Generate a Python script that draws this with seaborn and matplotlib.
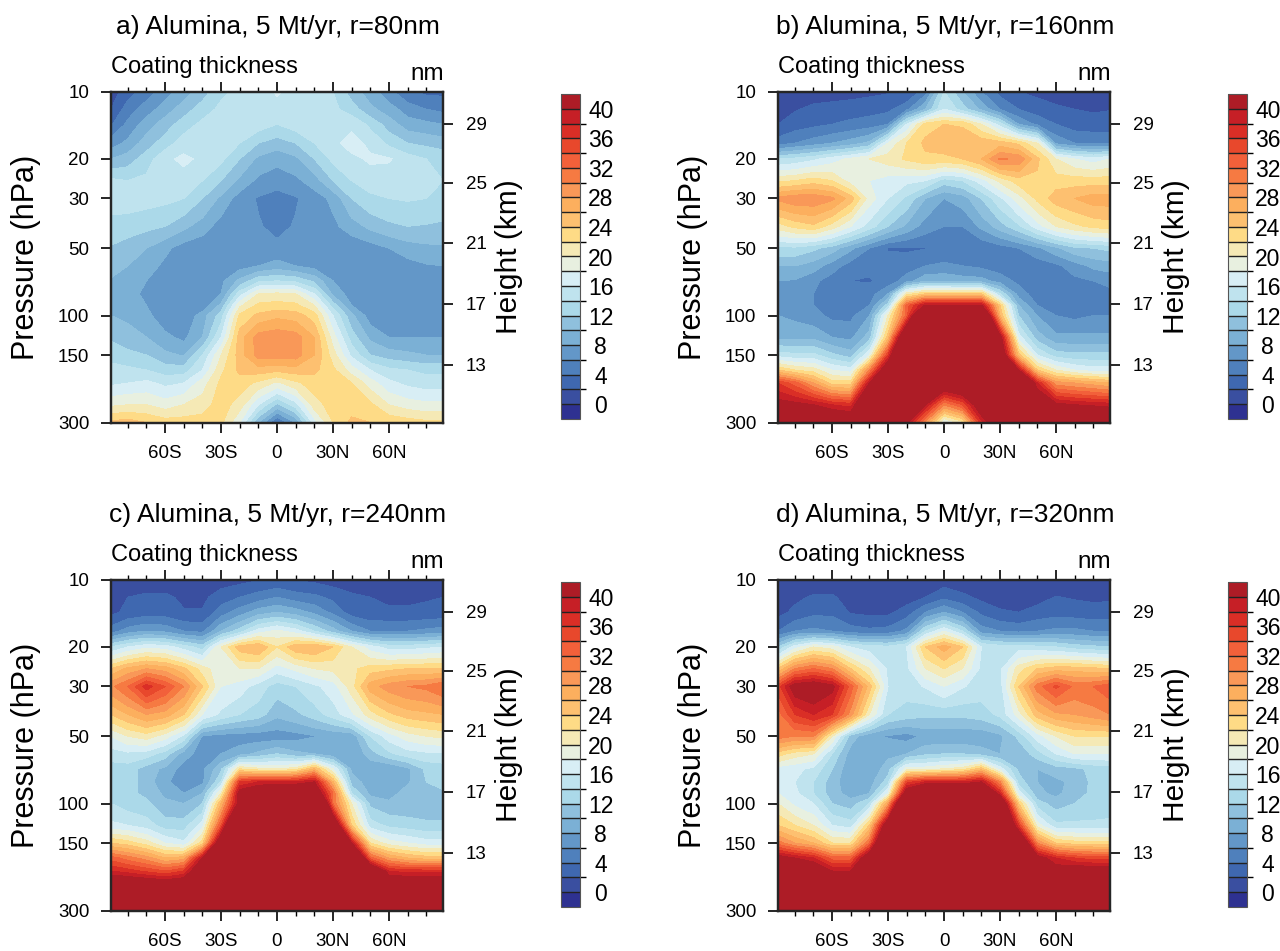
import numpy as np
import matplotlib
matplotlib.use('Agg')
import matplotlib.pyplot as plt
from matplotlib.colors import ListedColormap, BoundaryNorm
from matplotlib.ticker import NullFormatter, FixedLocator
import seaborn as sns

# Grid of the zonal mean fields
lats = [-89, -80, -70, -60, -50, -40, -30, -20, -10, 0, 10, 20, 30, 40, 50, 60, 70, 80, 89]
plevs = [10, 12, 14, 17, 20, 25, 30, 40, 50, 60, 70, 80, 90, 100, 125, 150, 175, 200, 250, 300]

# Values (nm), one row per pressure level
thick_a = [
    [1, 3, 5, 7, 9, 11, 13.5, 14.5, 15, 16.2, 15.5, 15, 14, 11, 9, 6.5, 4.5, 3.5, 3.5],
    [2, 5, 7, 9, 11, 13, 14.5, 15, 15, 15.5, 15, 15, 14.5, 13, 10.5, 9, 7, 6, 5.5],
    [3.7, 6.5, 9, 11, 13, 14.5, 15, 15, 15, 14, 15, 15, 15.5, 15.5, 13.5, 11, 9, 8.5, 8],
    [7, 8.5, 11, 13, 15, 15.5, 15, 14, 12, 11, 12, 14, 15.5, 16.8, 15.5, 13.5, 12, 11.5, 11],
    [10, 11, 13, 15.5, 16.5, 15.5, 14.5, 12, 9.5, 8.5, 9.5, 12, 14.5, 15.5, 16.3, 16.2, 15, 14, 13.5],
    [14.5, 14, 14.5, 15, 15, 14, 12, 9.5, 7.5, 7, 7.5, 9, 12, 14, 15, 15, 14.7, 14.3, 14],
    [15, 15, 14.8, 14.5, 14, 12, 9.5, 7, 5.8, 5, 5.8, 7, 8.5, 12, 13.5, 14, 14.2, 14, 13.8],
    [13.2, 13, 12.5, 12, 10.5, 9, 7, 6.4, 6.2, 5.4, 6.2, 6.4, 7.5, 9, 10.5, 11.5, 12, 11.8, 11.5],
    [11.8, 11, 10, 8.5, 7, 6.5, 6.4, 6.4, 6.5, 6.5, 6.5, 6.5, 6.4, 6.5, 7, 8, 9, 9.5, 9.7],
    [10.7, 10, 9, 7.5, 6.5, 6.4, 6.5, 7.2, 8, 8.8, 8, 7.2, 6.5, 6.4, 6.4, 6.5, 7.2, 7.8, 8],
    [9.8, 9, 8, 6.5, 6.3, 6.4, 7.5, 10.5, 13.5, 14, 13.5, 11.5, 8, 6.5, 6.4, 6.4, 6.5, 6.8, 7],
    [9.5, 8.8, 7.5, 6.4, 6.3, 6.4, 8, 15, 20, 20.5, 20, 16, 9.5, 7, 6.4, 6.4, 6.4, 6.5, 6.5],
    [9.7, 9, 8, 6.4, 6.3, 6.5, 10.5, 19.5, 22.5, 22.8, 22.5, 20, 13, 8, 6.4, 6.4, 6.4, 6.4, 6.4],
    [10, 9.5, 8.5, 6.8, 6.3, 9, 13, 22.5, 24.5, 25.5, 25, 23, 16, 10.5, 7, 6.4, 6.4, 6.4, 6.4],
    [11.7, 11, 10, 8.5, 7.5, 10, 16, 25, 29, 29.5, 29, 26, 19, 13, 9.5, 8, 8, 8, 8],
    [13.2, 12.5, 12, 10.5, 9.8, 14, 20, 25, 28.8, 29, 29, 26, 21, 15.5, 12, 11, 10.5, 10, 10],
    [14.8, 14.5, 14, 13, 13, 16, 21.5, 24.5, 25, 24.5, 25, 24.5, 22.5, 19, 16, 14.5, 14, 13.5, 13.5],
    [15.6, 16, 16.5, 15.5, 16, 19, 22.5, 23, 21.5, 19.5, 21.5, 23, 23, 22, 19, 16.5, 15.5, 15, 15],
    [19.6, 20, 20, 19, 20, 21, 23, 21, 16, 11.5, 15, 21, 23, 23, 22.5, 20, 19, 18.5, 18.5],
    [24.5, 25, 24, 23, 23, 23, 22.5, 18, 10, 3.5, 8, 17, 22, 24.5, 24, 23.5, 23, 22.5, 22.5],
]
thick_b = [
    [0.5, 0.7, 0.9, 1, 1.2, 1.5, 1.8, 1.9, 5, 14, 10, 6, 3.2, 2, 1.5, 1, 0.8, 0.8, 1],
    [0.8, 1.8, 2.5, 2.8, 3, 3.2, 3.5, 5.5, 10, 16, 13, 9.5, 6, 4, 3, 2.4, 2, 1.7, 1.9],
    [2, 3, 3.5, 4, 4.5, 5, 6, 16, 23, 24, 23.8, 20, 15, 8, 5.5, 4, 3, 3, 3],
    [5, 6, 7, 8, 9, 10.5, 18, 22, 24.5, 25, 25, 25.5, 25, 23.5, 20, 7.5, 6, 5.5, 5.5],
    [14, 14.5, 15.5, 17, 18.5, 20, 21, 22.3, 23.5, 23.5, 24, 26, 30.3, 29.6, 24.5, 20, 18, 17, 18],
    [21.5, 22, 23, 22, 19, 18, 17, 16.5, 16, 13, 14, 17, 20.5, 23, 23.5, 23, 23, 23, 23],
    [28.5, 29.5, 29.5, 28.5, 25, 19, 16, 13.5, 10, 8, 9, 12, 15.5, 19, 22.5, 25, 26, 27, 27],
    [21, 22.5, 23.5, 21, 18, 15, 12, 9.5, 7, 6, 6, 8.5, 11, 13.5, 17, 20, 21.5, 22.5, 23],
    [13.5, 13.5, 12.5, 11, 8.5, 6, 3.9, 3.7, 3.9, 4.2, 4.2, 4.2, 5, 6, 7.5, 9.5, 11.5, 12, 12.5],
    [10, 10, 9, 7, 5, 4.5, 4.5, 5, 6, 6.5, 6, 5.5, 5, 4.8, 4.8, 5.5, 7, 8.5, 9],
    [8, 7.8, 6.5, 5, 4, 3.8, 4.7, 7, 9.5, 9.5, 9, 8.8, 7, 5.5, 5, 5, 5.5, 6, 6.5],
    [7, 7, 6, 5, 4.5, 5, 8, 21, 24, 24, 24, 24, 14, 7, 5, 5, 5, 5.5, 5.5],
    [7, 7, 6, 5, 4.5, 6, 13, 33, 40.5, 40.5, 40.5, 40.5, 24, 10, 6, 5, 5, 5, 5],
    [8, 7.5, 6.7, 5.5, 5.5, 8, 20, 33, 55, 60, 60, 52, 26, 12, 8, 6, 5.5, 6, 6],
    [9.5, 9.5, 9.5, 8, 7.5, 11, 25, 50, 60, 60, 60, 60, 42, 17, 11, 8.5, 8.5, 8.5, 8.5],
    [15, 14.5, 14.5, 12.5, 11, 18, 36, 60, 60, 60, 60, 60, 46, 25, 16, 13, 12.5, 12.5, 12.5],
    [24, 22, 21, 18, 17, 30, 46, 60, 60, 60, 60, 60, 60, 40, 24, 20, 18, 17, 17],
    [36, 33, 28, 23, 23, 40, 58, 60, 50, 45, 47, 52, 60, 52, 38, 29, 28, 27, 26],
    [41.5, 41, 40, 38, 37, 50, 60, 48, 40, 30, 34, 44, 55, 60, 46, 41, 40, 39.5, 39],
    [48, 48, 48, 46, 45, 55, 55, 41, 29, 17, 21, 37, 45, 60, 55, 50, 48, 48, 47],
]
thick_c = [
    [0.5, 0.5, 0.5, 0.5, 0.5, 0.5, 1, 1.3, 1.8, 2.2, 1.8, 1.5, 1, 0.5, 0.5, 0.5, 0.5, 0.5, 0.5],
    [1, 2, 2.5, 2.5, 1.5, 1.5, 3, 4, 5, 6, 5, 4.5, 3.5, 2.5, 2, 1.5, 1.5, 1.8, 2],
    [1.5, 2.5, 3, 3, 2.2, 2.2, 5, 7, 9, 10, 9, 7.5, 5.5, 3, 2.5, 2.4, 2.4, 2.5, 2.6],
    [5, 7, 8, 7.5, 6, 5.5, 10, 13, 17, 18.5, 17, 14, 11, 8, 6, 6, 6, 6.5, 7],
    [14, 16, 17.5, 17, 15, 13, 20, 25, 26, 22, 25.5, 26, 24, 20, 17, 15, 15, 15.5, 16],
    [24, 26.5, 28, 27, 24.5, 21, 18.5, 20, 20, 17, 18.5, 20, 20.5, 21.5, 23, 23.5, 24, 24, 24],
    [29.5, 32, 37, 34, 30, 24, 18, 17, 15, 13, 14, 15.5, 17, 21, 27, 29, 30, 30.5, 32],
    [24, 26, 28, 27, 24, 18, 15.5, 14, 13, 10.5, 11.5, 13, 15, 17.5, 21, 23.5, 25, 25.5, 26],
    [18, 20, 21, 19, 15.5, 7.8, 7.2, 7, 6.8, 6.8, 7.2, 7.9, 8.3, 8.5, 14, 17, 19, 20, 20.5],
    [15, 15.5, 15, 13, 9, 7, 8, 9, 10.5, 12, 10.5, 10, 8.5, 8, 11, 13.5, 15, 15.5, 15.5],
    [13, 13, 11, 9.5, 7, 7.5, 11.5, 22, 20.5, 20, 21, 26, 18, 9.5, 8.5, 8, 9.5, 12.5, 13],
    [13, 13, 11, 8.5, 6.5, 7.5, 14, 36, 38, 38, 38, 40, 26, 11, 9, 9, 9.7, 12, 13],
    [13.5, 12.5, 11.5, 9.5, 8, 10, 20, 42, 45, 48, 48, 45, 32, 14, 9.5, 9, 11, 11.5, 11.5],
    [14, 13, 12.5, 10.5, 10, 12, 26, 42, 60, 60, 60, 60, 32, 20, 11.5, 10.5, 10.5, 10.5, 10.5],
    [16.5, 16, 15, 13, 13, 17, 34, 60, 60, 60, 60, 60, 48, 24, 15, 13.5, 13, 12.5, 12.5],
    [24, 23, 21, 18, 16.5, 23, 46, 60, 60, 60, 60, 60, 60, 40, 22, 19, 18, 17, 17],
    [33, 31, 29, 26, 27, 40, 55, 60, 60, 60, 60, 60, 60, 55, 33, 28, 26, 25, 25],
    [38, 37, 35.5, 34, 36, 46, 60, 60, 60, 60, 60, 60, 60, 60, 48, 38, 37, 37, 37],
    [50, 50, 50, 50, 50, 55, 60, 60, 60, 60, 60, 60, 60, 60, 55, 50, 50, 50, 50],
    [55, 55, 55, 55, 55, 58, 60, 60, 60, 60, 60, 60, 60, 60, 58, 55, 55, 55, 55],
]
thick_d = [
    [0.3, 0.3, 0.3, 0.3, 0.3, 0.3, 0.3, 0.4, 0.6, 0.9, 0.6, 0.5, 0.3, 0.3, 0.3, 0.3, 0.3, 0.3, 0.3],
    [0.8, 1.5, 2.3, 2.4, 0.8, 0.5, 0.5, 1, 2, 3.5, 2.5, 1.5, 1, 0.6, 1.2, 2.1, 1.8, 1.6, 1.7],
    [1.3, 2.5, 3.5, 3.5, 1.8, 1.5, 1.5, 3, 6, 8, 6, 3.5, 2.3, 2, 2.8, 3.2, 3, 2.8, 2.8],
    [4, 6, 6.5, 6, 5, 4.5, 4.8, 6.5, 14, 18, 14, 7, 6, 5.5, 6, 6.5, 6.5, 6, 6],
    [12, 17, 20, 19, 16, 15, 14.5, 16, 24, 27, 24, 16, 15, 15, 14.5, 14, 13, 12.5, 12],
    [24, 30, 32, 30, 24, 20, 15.5, 15.5, 20, 22, 20, 15.5, 15.5, 21, 24, 25, 25, 24.5, 24],
    [35, 42, 43, 41, 33, 25, 16, 15, 16.2, 18, 16.2, 15, 15, 24, 31, 34.5, 31.5, 32, 33.5],
    [31, 36, 38, 36, 29, 20, 14, 13, 12.5, 12.5, 12.5, 13, 14.5, 19, 25, 27.5, 28, 29, 30],
    [31, 30, 30, 20, 11, 8.5, 7.8, 7.2, 8.5, 8.5, 8.5, 8.5, 9.5, 12.5, 17, 20, 22, 22, 22],
    [23, 21, 20, 14, 9, 8.5, 9.5, 10, 11.5, 12, 12, 11, 10, 10.5, 13, 16, 18, 18, 18],
    [17, 16.5, 15.5, 12, 8.3, 8.5, 11, 19, 19, 20, 21, 25, 17, 11.5, 10, 11, 11.5, 12.5, 13],
    [17, 16, 14, 11, 8.3, 9, 13, 35, 38, 38, 38, 40, 30, 13, 10, 9.5, 10.5, 12.5, 13],
    [18, 16.5, 14, 11, 9, 10, 18, 44, 50, 50, 50, 50, 38, 17, 10.5, 9.5, 11, 12.5, 13],
    [20, 17.5, 16, 12, 11, 14, 28, 55, 60, 60, 60, 60, 48, 24, 13, 11, 12, 12.5, 13],
    [24, 22, 20, 16, 15, 24, 45, 60, 60, 60, 60, 60, 55, 36, 19, 14.5, 14.5, 14.5, 14.5],
    [31, 28, 26, 22, 22, 32, 55, 60, 60, 60, 60, 60, 60, 50, 30, 24, 23, 23, 23],
    [42, 40, 38, 33, 33, 45, 60, 60, 60, 60, 60, 60, 60, 60, 42, 38, 36, 35, 35],
    [45, 45, 45, 40, 40, 50, 60, 60, 60, 60, 60, 60, 60, 60, 50, 42, 43, 43, 43],
    [55, 55, 55, 55, 55, 58, 60, 60, 60, 60, 60, 60, 60, 60, 58, 55, 55, 55, 55],
    [60, 60, 60, 60, 60, 60, 60, 60, 60, 60, 60, 60, 60, 60, 60, 60, 60, 60, 60],
]

titles = ['a) Alumina, 5 Mt/yr, r=80nm', 'b) Alumina, 5 Mt/yr, r=160nm',
          'c) Alumina, 5 Mt/yr, r=240nm', 'd) Alumina, 5 Mt/yr, r=320nm']
levels = list(range(0, 42, 2))
band_colors = ['#2E3191', '#3A4FA0', '#3F68B0', '#4F80BC', '#6397C8', '#7BB0D5', '#8FC0DD', '#ABD9E9',
               '#BFE3EE', '#D8EEF5', '#E8F0E0', '#F5E9B5', '#FEDB86', '#FDC070', '#FCAF5E', '#F99858',
               '#F67A42', '#F2603A', '#E8482C', '#DA2E26', '#C61F26', '#AD1C26']
lat_ticks = [-60, -30, 0, 30, 60]
lat_labels = ['60S', '30S', '0', '30N', '60N']
lat_minor = [-80, -70, -50, -40, -20, -10, 10, 20, 40, 50, 70, 80]
p_ticks = [10, 20, 30, 50, 100, 150, 300]
height_p = [13.9, 25.5, 47.3, 88.5, 166]
height_labels = ['29', '25', '21', '17', '13']

sns.set_theme(style='ticks')
plt.rcParams['font.family'] = ['Liberation Sans', 'DejaVu Sans']
plt.rcParams['axes.linewidth'] = 1.6
plt.rcParams['text.color'] = 'black'
plt.rcParams['axes.labelcolor'] = 'black'
plt.rcParams['xtick.color'] = 'black'
plt.rcParams['ytick.color'] = 'black'

W, H = 1280, 951
fig = plt.figure(figsize=(W / 100, H / 100), dpi=100)
cmap = ListedColormap(sns.color_palette(band_colors[1:-1]))
cmap.set_under(band_colors[0])
cmap.set_over(band_colors[-1])
norm = BoundaryNorm(levels, cmap.N)


def box(x0, y0, x1, y1):
    return [x0 / W, 1 - y1 / H, (x1 - x0) / W, (y1 - y0) / H]


def put(x, y, s, **kw):
    fig.text(x / W, 1 - y / H, s, **kw)


offsets = [(0, 0), (667, 0), (0, 488), (667, 488)]
fields = [thick_a, thick_b, thick_c, thick_d]
for title, field, (dx, dy) in zip(titles, fields, offsets):
    ax = fig.add_axes(box(111 + dx, 91.5 + dy, 443 + dx, 422.5 + dy))
    cf = ax.contourf(lats, plevs, np.array(field), levels=levels, cmap=cmap, norm=norm, extend='both')
    ax.set_yscale('log')
    ax.set_ylim(300, 10)
    ax.set_xlim(-89, 89)

    ax.yaxis.set_major_locator(FixedLocator(p_ticks))
    ax.yaxis.set_major_formatter(plt.FuncFormatter(lambda v, _: f'{v:.0f}'))
    ax.yaxis.set_minor_locator(FixedLocator([]))
    ax.yaxis.set_minor_formatter(NullFormatter())
    ax.set_xticks(lat_ticks, lat_labels)
    ax.set_xticks(lat_minor, minor=True)
    ax.tick_params(axis='x', which='major', top=True, length=7.5, width=1.2, labelsize=13.5, pad=9)
    ax.tick_params(axis='x', which='minor', top=True, length=3.8, width=1.0)
    ax.tick_params(axis='y', which='major', length=7.5, width=1.2, labelsize=13.5, pad=8)

    ax2 = ax.twinx()
    ax2.set_yscale('log')
    ax2.set_ylim(300, 10)
    ax2.yaxis.set_major_locator(FixedLocator(height_p))
    ax2.yaxis.set_major_formatter(plt.FixedFormatter(height_labels))
    ax2.yaxis.set_minor_locator(FixedLocator([]))
    ax2.yaxis.set_minor_formatter(NullFormatter())
    ax2.tick_params(axis='y', length=7.5, width=1.2, labelsize=13.5, pad=9)

    put(278 + dx, 27 + dy, title, fontsize=19, ha='center', va='center')
    put(111 + dx, 67 + dy, 'Coating thickness', fontsize=17, ha='left', va='center')
    put(444 + dx, 74 + dy, 'nm', fontsize=17.5, ha='right', va='center')
    put(26 + dx, 257 + dy, 'Pressure (hPa)', fontsize=22, rotation=90, ha='center', va='center')
    put(509 + dx, 257 + dy, 'Height (km)', fontsize=21.5, rotation=90, ha='center', va='center')

    cax = fig.add_axes(box(561 + dx, 94 + dy, 580 + dx, 419 + dy))
    cb = fig.colorbar(cf, cax=cax, ticks=levels[::2], extend='both', extendrect=True,
                      extendfrac=1 / 20, drawedges=True, spacing='uniform')
    cb.outline.set_linewidth(0.8)
    cb.outline.set_edgecolor('#555555')
    cb.dividers.set_linewidth(1.0)
    cb.dividers.set_color('#222222')
    cb.ax.tick_params(length=0, labelsize=16.5, pad=15)
    for lab in cb.ax.get_yticklabels():
        lab.set_ha('center')

fig.savefig('out.png', dpi=100)
